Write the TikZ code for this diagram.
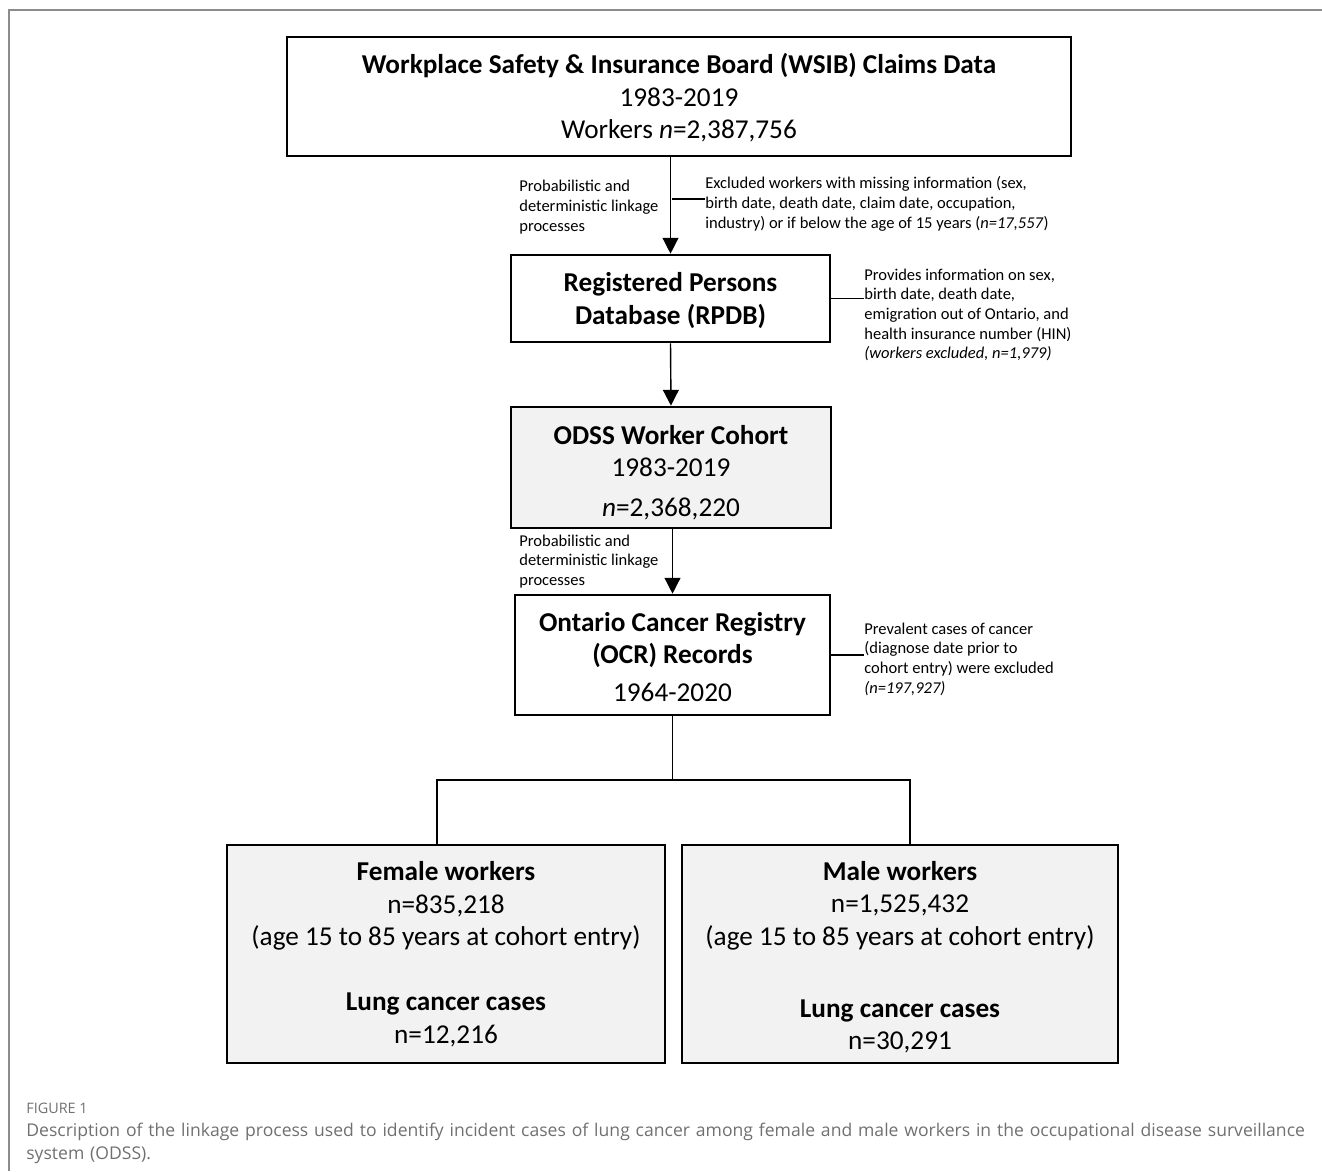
\documentclass[tikz,border=0pt]{standalone}
\usepackage{fontspec}
\setmainfont{Carlito}
\newfontfamily\capfont{Open Sans}
\usetikzlibrary{arrows.meta}
\definecolor{boxgray}{HTML}{F2F2F2}
\definecolor{capgray}{HTML}{707070}
\definecolor{framegray}{HTML}{8C8C8C}

\begin{document}
\begin{tikzpicture}[x=0.02cm, y=-0.02cm,
    box/.style={draw, line width=1.5pt, align=center, inner sep=0pt, font=\fontsize{15.5}{18.5}\selectfont},
    shaded/.style={box, fill=boxgray},
    note/.style={anchor=west, align=left, inner sep=0pt, font=\fontsize{9.4}{11.2}\selectfont},
    link/.style={line width=0.8pt},
    >={Triangle[width=9pt,length=9pt]}]
    \useasboundingbox (0,0) rectangle (1322,1171);
    \draw[framegray, line width=0.8pt] (1322,10) -- (9,10) -- (9,1171);

    % boxes
    \node[box, minimum width=15.68cm, minimum height=2.38cm] (wsib) at (679,96.5)
        {\rule{0pt}{13pt}\textbf{Workplace Safety \& Insurance Board (WSIB) Claims Data}\\1983-2019\\Workers \textit{n}=2,387,756};
    \node[box, minimum width=6.38cm, minimum height=1.74cm] (rpdb) at (670.5,298.5)
        {\rule{0pt}{13pt}\textbf{Registered Persons}\\\textbf{Database (RPDB)}};
    \node[shaded, minimum width=6.4cm, minimum height=2.42cm] (odss) at (671,467.5)
        {\rule{0pt}{16.5pt}\textbf{ODSS Worker Cohort}\\1983-2019\\[4pt]\textit{n}=2,368,220};
    \node[box, minimum width=6.3cm, minimum height=2.4cm] (ocr) at (672.5,655)
        {\rule{0pt}{13pt}\textbf{Ontario Cancer Registry}\\\textbf{(OCR) Records}\\[3pt]1964-2020};
    \node[shaded, minimum width=8.76cm, minimum height=4.36cm] (female) at (446,954)
        {\textbf{Female workers}\\n=835,218\\(age 15 to 85 years at cohort entry)\\[18.5pt]\textbf{Lung cancer cases}\\n=12,216};
    \node[shaded, minimum width=8.72cm, minimum height=4.36cm] (male) at (900,954)
        {\rule{0pt}{14.5pt}\textbf{Male workers}\\n=1,525,432\\(age 15 to 85 years at cohort entry)\\[22.5pt]\textbf{Lung cancer cases}\\n=30,291};

    % side notes
    \node[note] (link1) at (519,207) {Probabilistic and\\deterministic linkage\\processes};
    \node[note] (link2) at (519,561.5) {Probabilistic and\\deterministic linkage\\processes};
    \node[note] (excl) at (705,204) {Excluded workers with missing information (sex,\\birth date, death date, claim date, occupation,\\industry) or if below the age of 15 years (\textit{n=17,557})};
    \node[note] (info) at (864,315) {Provides information on sex,\\birth date, death date,\\emigration out of Ontario, and\\health insurance number (HIN)\\\textit{(workers excluded, n=1,979)}};
    \node[note] (prev) at (864,659) {Prevalent cases of cancer\\(diagnose date prior to\\cohort entry) were excluded\\\textit{(n=197,927)}};

    % connectors
    \coordinate (j1) at (672,199);
    \coordinate (split) at (674,780);
    \draw[link, ->] (rpdb.north |- wsib.south) -- (rpdb.north);
    \draw[link] (j1) -- (excl.west |- j1);
    \draw[link] (rpdb.east) -- (info.west |- rpdb.east);
    \draw[link, ->] (rpdb.south) -- (odss.north);
    \draw[link, ->] (ocr.north |- odss.south) -- (ocr.north);
    \draw[link] (ocr.east) -- (prev.west |- ocr.east);
    \draw[link] (ocr.south) -- (ocr.south |- split);
    \draw[link] ([xshift=-0.18cm]female.north) |- (split) -| ([xshift=0.2cm]male.north);

    % caption
    \node[anchor=west, inner sep=0pt, text=capgray, font=\capfont\fontsize{8.2}{9}\selectfont] (fig) at (26,1108) {FIGURE 1};
    \node[anchor=north west, inner sep=0pt, text width=26cm, align=left, text=capgray, font=\capfont\fontsize{10}{13}\selectfont] (cap) at (26,1123)
        {\hyphenpenalty=10000 Description of the linkage process used to identify incident cases of lung cancer among female and male workers in the occupational disease surveillance system (ODSS).};
\end{tikzpicture}
\end{document}
